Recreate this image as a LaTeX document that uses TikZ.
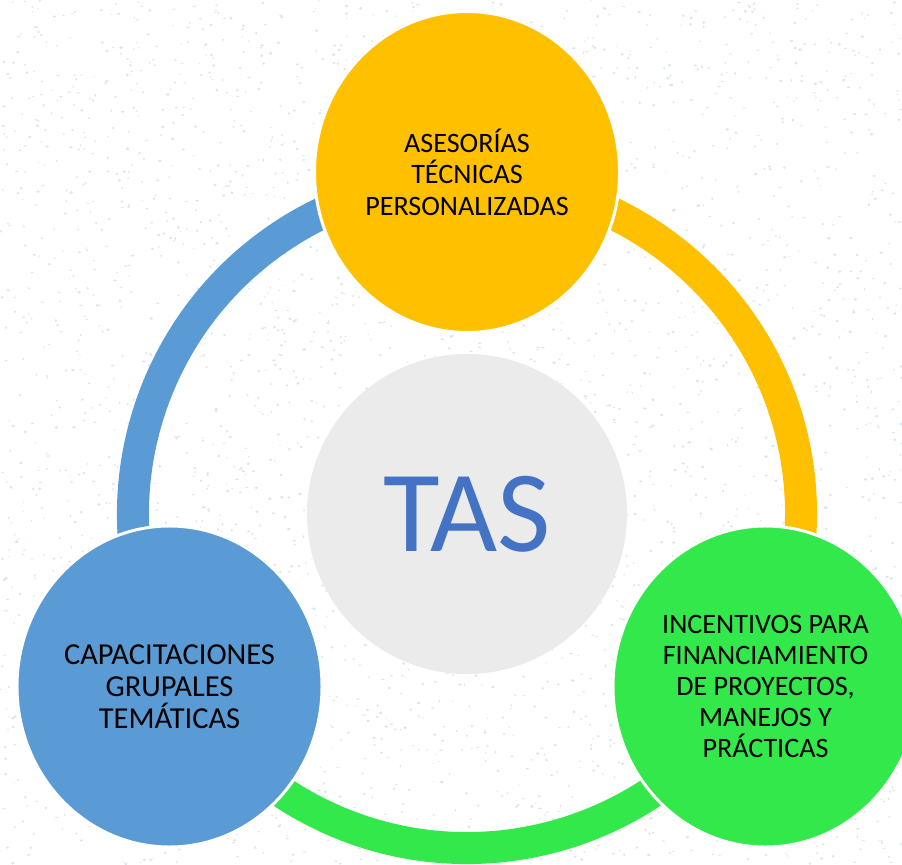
\documentclass[tikz,border=0pt]{standalone}
\usepackage{fontspec}
\setmainfont{Carlito}
\usepackage{tikz}
\usetikzlibrary{shapes.geometric, calc}
\definecolor{cycleyellow}{RGB}{255, 192, 0}
\definecolor{cycleblue}{RGB}{91, 155, 213}
\definecolor{cyclegreen}{RGB}{50, 232, 74}
\definecolor{hubgray}{RGB}{235, 235, 235}
\definecolor{tasblue}{RGB}{68, 114, 196}
\definecolor{specklecolor}{RGB}{218, 230, 238}

\begin{document}
\begin{tikzpicture}[
    x=0.03cm, y=0.03cm,
    stage/.style={ellipse, draw=white, line width=0.09cm, minimum width=9.15cm, minimum height=9.63cm, inner sep=0pt, align=center, font=\fontsize{24}{27}\selectfont},
    hubnode/.style={circle, fill=hubgray, minimum size=9.6cm, inner sep=0pt, text=tasblue, font=\fontsize{99}{100}\selectfont},
    ring/.style={line width=0.96cm}
]

% background with speckles
\useasboundingbox (0,0) rectangle (902,864);
\fill[white] (0,0) rectangle (902,864);
\pgfmathsetseed{17}
\foreach \i in {1,...,3200} {
    \fill[specklecolor] (rnd*902, rnd*864) ellipse[x radius=0.6+rnd*1.4, y radius=0.5+rnd*1.0];
}

\coordinate (ringcenter) at (467,350);
\def\ringradius{10.02cm}

% ring segments
\draw[ring, cycleblue] ([shift={(210:\ringradius)}]ringcenter) arc[start angle=210, end angle=90, radius=\ringradius];
\draw[ring, cycleyellow] ([shift={(90:\ringradius)}]ringcenter) arc[start angle=90, end angle=-30, radius=\ringradius];
\draw[ring, cyclegreen] ([shift={(-30:\ringradius)}]ringcenter) arc[start angle=-30, end angle=-150, radius=\ringradius];

\node[hubnode] (tas) at (467,350) {TAS};

\node[stage, fill=cycleyellow] (asesorias) at (467,692) {ASESORÍAS\\TÉCNICAS\\PERSONALIZADAS};
\node[stage, fill=cyclegreen, font=\fontsize{24}{26.3}\selectfont] (incentivos) at (765.5,177.5) {INCENTIVOS PARA\\FINANCIAMIENTO\\DE PROYECTOS,\\MANEJOS Y\\PRÁCTICAS};
\node[stage, fill=cycleblue, font=\fontsize{26}{27.3}\selectfont] (capacitaciones) at (169.5,177.5) {CAPACITACIONES\\GRUPALES\\TEMÁTICAS};

\end{tikzpicture}
\end{document}
